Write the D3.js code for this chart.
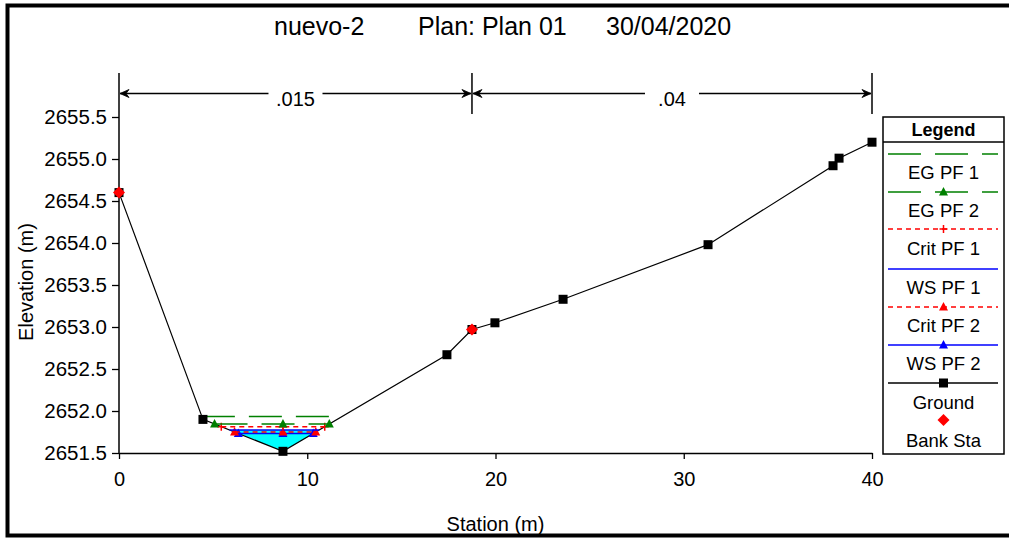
<!DOCTYPE html>
<html><head><meta charset="utf-8">
<script src="https://cdn.jsdelivr.net/npm/d3@7/dist/d3.min.js"></script>
<style>
html,body{margin:0;padding:0;background:#fff;}
svg text{font-family:"Liberation Sans",Arial,sans-serif;fill:#000;}
</style></head>
<body><svg id="c" width="1009" height="539"></svg>
<script>
// ---- data ----
const titleParts = ["nuevo-2", "Plan: Plan 01", "30/04/2020"];
const groundSta  = [0, 4.46, 8.71, 17.42, 18.75, 19.97, 23.59, 31.29, 37.93, 38.25, 40];
const groundElev = [2654.6, 2651.9, 2651.52, 2652.67, 2652.97, 2653.05, 2653.33, 2653.98, 2654.92, 2655.01, 2655.2];
const bankSta  = [0, 18.75];
const bankElev = [2654.6, 2652.97];
const nBounds = [0, 18.75, 40];
const nValues = [".015", ".04"];
const profileNames = ["EG PF 1", "EG PF 2", "Crit PF 1", "WS PF 1", "Crit PF 2", "WS PF 2"];
const profileElev  = [2651.935, 2651.845, 2651.813, 2651.774, 2651.75, 2651.732];
const xTicks = [0, 10, 20, 30, 40];
const yTicks = [2651.5, 2652.0, 2652.5, 2653.0, 2653.5, 2654.0, 2654.5, 2655.0, 2655.5];
const legendNames = ["EG PF 1", "EG PF 2", "Crit PF 1", "WS PF 1", "Crit PF 2", "WS PF 2", "Ground", "Bank Sta"];

// ---- styles ----
const green = "#008000", red = "#ff0000", blue = "#0000ff";
const pStyle = {
  "EG PF 1":   {color: green, dash: "33,14", marker: null},
  "EG PF 2":   {color: green, dash: "33,14", marker: "tri"},
  "Crit PF 1": {color: red,   dash: "5,4",   marker: "plus"},
  "WS PF 1":   {color: blue,  dash: null,    marker: null},
  "Crit PF 2": {color: red,   dash: "5,4",   marker: "tri"},
  "WS PF 2":   {color: blue,  dash: null,    marker: "tri"}
};

const svg = d3.select("#c");
// outer frame
svg.append("rect").attr("x", 7.5).attr("y", 5.5).attr("width", 1006).attr("height", 530)
  .attr("fill", "none").attr("stroke", "#000").attr("stroke-width", 4);

// title
const titleX = [274, 418, 606];
svg.append("g").selectAll("text").data(titleParts).join("text")
  .attr("x", (d, i) => titleX[i]).attr("y", 35).attr("font-size", 25).text(d => d);

const x = d3.scaleLinear().domain([0, 40]).range([119, 872]);
const y = d3.scaleLinear().domain([2651.5, 2655.5]).range([453, 117]);
const dimTop = 73, dimY = 93.5;

// helpers for water edge intersection
const pts = groundSta.map((s, i) => [s, groundElev[i]]);
const iMin = d3.minIndex(groundElev);
function waterLine(level) {
  let left = null, right = null;
  for (let i = iMin; i > 0; i--) {
    const a = pts[i - 1], b = pts[i];
    if (a[1] >= level && b[1] <= level) { left = a[0] + (level - a[1]) / (b[1] - a[1]) * (b[0] - a[0]); break; }
  }
  for (let i = iMin; i < pts.length - 1; i++) {
    const a = pts[i], b = pts[i + 1];
    if (a[1] <= level && b[1] >= level) { right = a[0] + (level - a[1]) / (b[1] - a[1]) * (b[0] - a[0]); break; }
  }
  const inner = pts.filter(p => p[0] > left && p[0] < right);
  return {left, right, inner};
}

// water fill (WS PF 1)
{
  const lev = profileElev[profileNames.indexOf("WS PF 1")];
  const w = waterLine(lev);
  const poly = [[w.left, lev], ...w.inner, [w.right, lev]];
  svg.append("path").attr("d", d3.line().x(d => x(d[0])).y(d => y(d[1]))(poly) + "Z")
    .attr("fill", "#00ffff").attr("stroke", "none");
}

// axes
const gy = svg.append("g").attr("transform", `translate(${x(0)},0)`);
gy.call(d3.axisLeft(y).tickValues(d3.range(2651.75, 2655.5, 0.5)).tickSize(4).tickFormat("").tickSizeOuter(0));
gy.call(d3.axisLeft(y).tickValues(yTicks).tickSize(7).tickPadding(5).tickSizeOuter(0).tickFormat(d3.format(".1f")));
gy.selectAll("text").attr("font-size", 20.5).attr("fill", "#000");
gy.selectAll("line,path").attr("stroke", "#000").attr("stroke-width", 1.3);
gy.select("path.domain").remove();

const gx = svg.append("g").attr("transform", `translate(0,${y(2651.5)})`);
gx.call(d3.axisBottom(x).tickValues(d3.range(0, 41, 2)).tickSize(6).tickFormat("").tickSizeOuter(0));
gx.call(d3.axisBottom(x).tickValues(xTicks).tickSize(6).tickPadding(13).tickSizeOuter(0).tickFormat(d3.format("d")));
gx.selectAll("text").attr("font-size", 20).attr("fill", "#000");
gx.selectAll("line,path").attr("stroke", "#000").attr("stroke-width", 1.3);

// y axis line extended to dimension top
svg.append("line").attr("x1", x(0)).attr("x2", x(0)).attr("y1", y(2651.5)).attr("y2", dimTop)
  .attr("stroke", "#000").attr("stroke-width", 1.5);

// axis titles
svg.append("text").attr("x", (x(0) + x(40)) / 2).attr("y", 531).attr("text-anchor", "middle")
  .attr("font-size", 20).text("Station (m)");
svg.append("text").attr("transform", `translate(33,${(y(2651.5) + y(2655.5)) / 2 - 3}) rotate(-90)`)
  .attr("text-anchor", "middle").attr("font-size", 20).text("Elevation (m)");

// roughness dimension lines
const dg = svg.append("g");
nBounds.slice(1).forEach((b, i) => {
  dg.append("line").attr("x1", x(b)).attr("x2", x(b)).attr("y1", dimTop).attr("y2", dimTop + 41)
    .attr("stroke", "#000").attr("stroke-width", 1.5);
});
nValues.forEach((v, i) => {
  const a = x(nBounds[i]) + 1, b = x(nBounds[i + 1]) - 1, mid = (a + b) / 2;
  const half = 27;
  dg.append("line").attr("x1", a).attr("x2", mid - half).attr("y1", dimY).attr("y2", dimY).attr("stroke", "#000").attr("stroke-width", 1.3);
  dg.append("line").attr("x1", mid + half).attr("x2", b).attr("y1", dimY).attr("y2", dimY).attr("stroke", "#000").attr("stroke-width", 1.3);
  dg.append("path").attr("d", `M${a},${dimY}L${a + 9},${dimY - 4}L${a + 6},${dimY}L${a + 9},${dimY + 4}Z`).attr("fill", "#000").attr("stroke", "#000").attr("stroke-width", 0.8);
  dg.append("path").attr("d", `M${b},${dimY}L${b - 9},${dimY - 4}L${b - 6},${dimY}L${b - 9},${dimY + 4}Z`).attr("fill", "#000").attr("stroke", "#000").attr("stroke-width", 0.8);
  dg.append("text").attr("x", mid).attr("y", dimY + 12).attr("text-anchor", "middle").attr("font-size", 20).text(v);
});

// marker drawing
function marker(g, type, cx, cy, color) {
  if (type === "tri") {
    g.append("path").attr("d", `M${cx},${cy - 5}L${cx + 4.5},${cy + 3.5}L${cx - 4.5},${cy + 3.5}Z`).attr("fill", color);
  } else if (type === "plus") {
    g.append("path").attr("d", `M${cx - 4},${cy}H${cx + 4}M${cx},${cy - 4}V${cy + 4}`).attr("stroke", color).attr("stroke-width", 1.5);
  } else if (type === "sq") {
    g.append("rect").attr("x", cx - 4.5).attr("y", cy - 4.5).attr("width", 9).attr("height", 9).attr("fill", color);
  } else if (type === "dia") {
    g.append("path").attr("d", `M${cx},${cy - 6}L${cx + 6},${cy}L${cx},${cy + 6}L${cx - 6},${cy}Z`).attr("fill", color);
  }
}

// ground line
svg.append("path").attr("d", d3.line().x(d => x(d[0])).y(d => y(d[1]))(pts))
  .attr("fill", "none").attr("stroke", "#000").attr("stroke-width", 1.2);

// profiles (draw lower ones first)
const pg = svg.append("g");
const order = ["WS PF 2", "Crit PF 2", "WS PF 1", "Crit PF 1", "EG PF 2", "EG PF 1"];
order.forEach(name => {
  const lev = profileElev[profileNames.indexOf(name)];
  const st = pStyle[name];
  const w = waterLine(lev);
  const ln = pg.append("line").attr("x1", x(w.left)).attr("x2", x(w.right)).attr("y1", y(lev)).attr("y2", y(lev))
    .attr("stroke", st.color).attr("stroke-width", 1.5);
  if (st.dash) ln.attr("stroke-dasharray", st.dash);
  if (st.marker) {
    [w.left, ...w.inner.map(p => p[0]), w.right].forEach(s => marker(pg, st.marker, x(s), y(lev), st.color));
  }
});

// ground squares & bank stations
const mg = svg.append("g");
pts.forEach(p => marker(mg, "sq", x(p[0]), y(p[1]), "#000"));
bankSta.forEach((s, i) => marker(mg, "dia", x(s), y(bankElev[i]), red));

// legend
const L = svg.append("g");
const lx = 883, ly = 117, lw = 121, lh = 337;
L.append("rect").attr("x", lx).attr("y", ly).attr("width", lw).attr("height", lh).attr("fill", "#fff").attr("stroke", "#000").attr("stroke-width", 1.5);
L.append("line").attr("x1", lx).attr("x2", lx + lw).attr("y1", ly + 25).attr("y2", ly + 25).attr("stroke", "#000").attr("stroke-width", 1.5);
L.append("text").attr("x", lx + lw / 2).attr("y", ly + 19).attr("text-anchor", "middle").attr("font-size", 18).attr("font-weight", "bold").text("Legend");
const sampleY = [154, 192, 229, 269, 307, 345, 383, 420];
const labelY = [172, 210, 248, 287, 325, 363, 402, 440];
const lcx = lx + lw / 2;
legendNames.forEach((name, i) => {
  const sy = sampleY[i];
  if (pStyle[name]) {
    const st = pStyle[name];
    const ln = L.append("line").attr("x1", 888).attr("x2", 998).attr("y1", sy).attr("y2", sy).attr("stroke", st.color).attr("stroke-width", 1.5);
    if (st.dash) ln.attr("stroke-dasharray", st.dash);
    if (st.marker) marker(L, st.marker, lcx, sy, st.color);
  } else if (name === "Ground") {
    L.append("line").attr("x1", 888).attr("x2", 998).attr("y1", sy).attr("y2", sy).attr("stroke", "#000").attr("stroke-width", 1.5);
    marker(L, "sq", lcx, sy, "#000");
  } else {
    marker(L, "dia", lcx, sy, red);
  }
  L.append("text").attr("x", lcx).attr("y", labelY[i] + 7).attr("text-anchor", "middle").attr("font-size", 18.5).text(name);
});
</script></body></html>
